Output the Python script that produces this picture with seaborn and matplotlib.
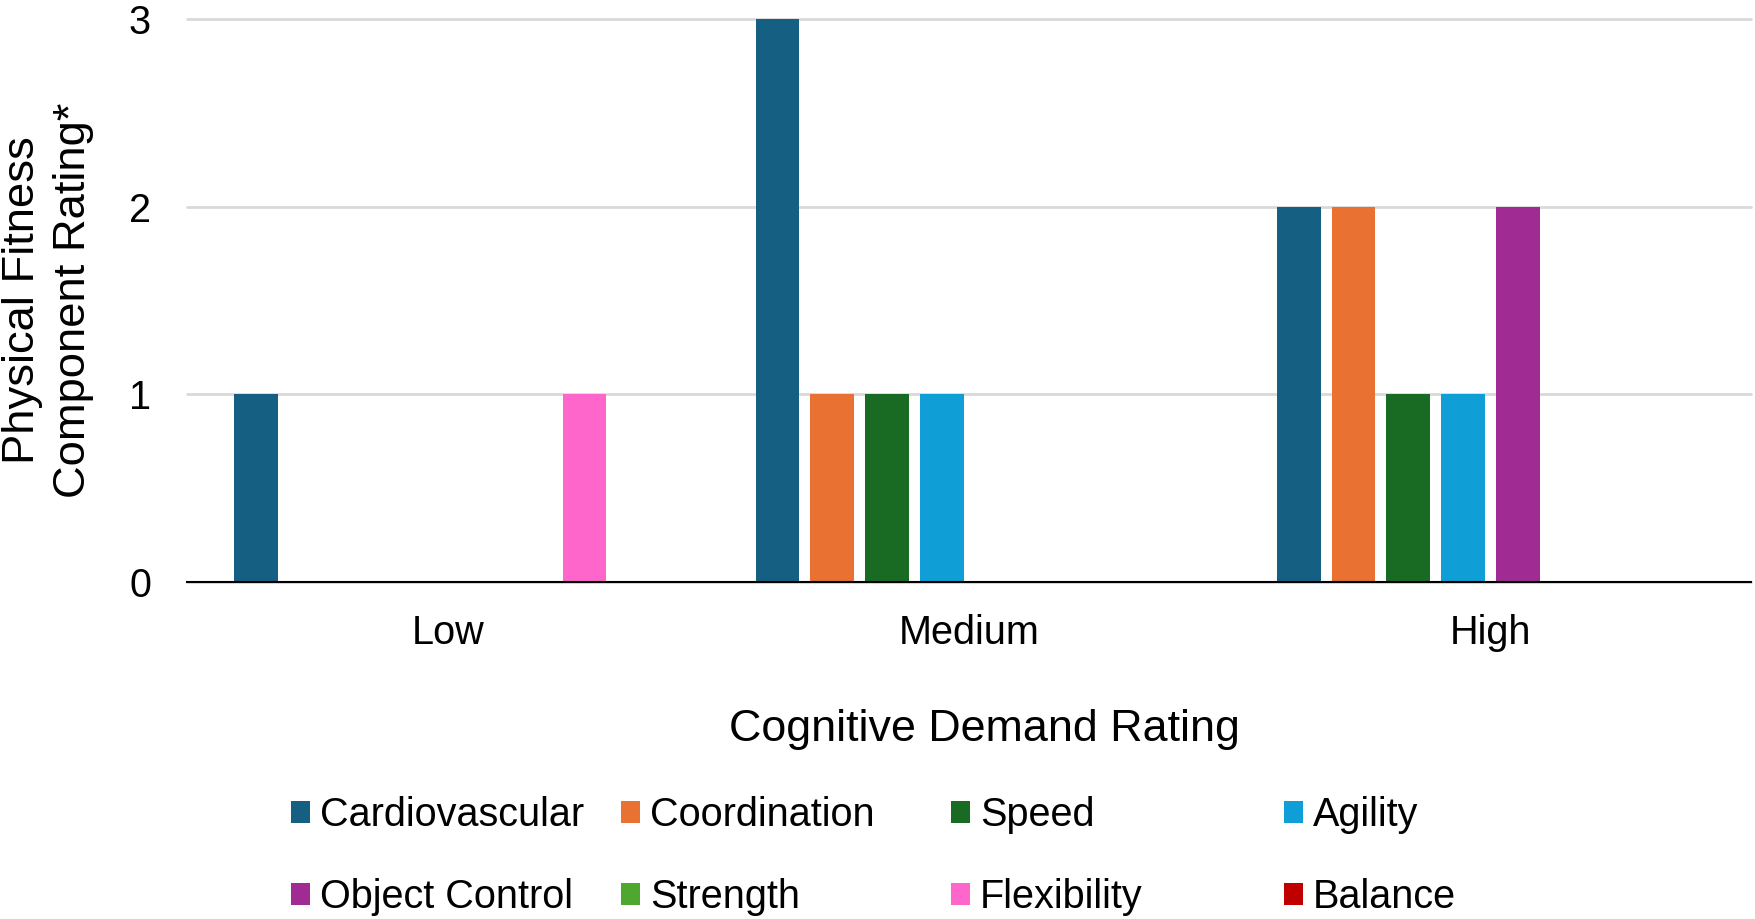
import pandas as pd
import seaborn as sns
import matplotlib.pyplot as plt
from matplotlib.patches import Patch

sns.set_style('white')
plt.rcParams['font.family'] = ['Liberation Sans', 'DejaVu Sans']
plt.rcParams['text.color'] = 'black'

demand_levels = ['Low', 'Medium', 'High']
components = ['Cardiovascular', 'Coordination', 'Speed', 'Agility',
              'Object Control', 'Strength', 'Flexibility', 'Balance']

cardiovascular = [1, 3, 2]
coordination = [0, 1, 2]
speed = [0, 1, 1]
agility = [0, 1, 1]
object_control = [0, 0, 2]
strength = [0, 0, 0]
flexibility = [1, 0, 0]
balance = [0, 0, 0]

colors = ['#156082', '#E97132', '#196B24', '#0F9ED5',
          '#A02B93', '#4EA72E', '#FF66CC', '#C00000']

series = [cardiovascular, coordination, speed, agility,
          object_control, strength, flexibility, balance]
rows = []
for comp, vals in zip(components, series):
    for lvl, v in zip(demand_levels, vals):
        rows.append({'Cognitive Demand Rating': lvl, 'Rating': v, 'Component': comp})
df = pd.DataFrame(rows)

fig = plt.figure(figsize=(17.55, 9.19), dpi=100)
ax = fig.add_axes([0.1066, 0.3667, 0.8911, 0.6126])

sns.barplot(data=df, x='Cognitive Demand Rating', y='Rating', hue='Component',
            order=demand_levels, hue_order=components, palette=colors,
            width=0.84, gap=0.2, saturation=1, linewidth=0, errorbar=None,
            legend=False, ax=ax, zorder=2)

ax.set_ylim(0, 3)
ax.set_xlim(-0.5, 2.5)
ax.set_yticks([0, 1, 2, 3])
ax.yaxis.grid(True, color='#d9d9d9', linewidth=2.0, zorder=0)
for gl in ax.yaxis.get_gridlines():
    gl.set_clip_on(False)
ax.set_axisbelow(True)

for s in ['top', 'right', 'left']:
    ax.spines[s].set_visible(False)
ax.spines['bottom'].set_color('black')
ax.spines['bottom'].set_linewidth(1.5)
ax.spines['bottom'].set_zorder(3)

ax.tick_params(axis='y', length=0, pad=26, labelsize=28.5, labelcolor='black')
ax.tick_params(axis='x', length=0, pad=23, labelsize=28.5, labelcolor='black')

ax.set_xlabel('Cognitive Demand Rating', fontsize=32.3, labelpad=41, color='black')
ax.xaxis.label.set_x(0.51)
ax.set_ylabel('Physical Fitness\nComponent Rating*', fontsize=32.7, color='black',
              linespacing=1.3)
ax.yaxis.set_label_coords(-0.0595, 0.5)

col_x = [0.1658, 0.354, 0.542, 0.7314]
for i, x in enumerate(col_x):
    handles = [Patch(facecolor=colors[j], edgecolor='none', label=components[j])
               for j in (i, i + 4)]
    fig.legend(handles=handles, loc='center left', bbox_to_anchor=(x, 0.0685),
               frameon=False, fontsize=28.5, handlelength=0.48, handleheight=0.48,
               handletextpad=0.25, labelspacing=1.12, borderpad=0, borderaxespad=0,
               labelcolor='black')

fig.savefig('out.png', dpi=100)
